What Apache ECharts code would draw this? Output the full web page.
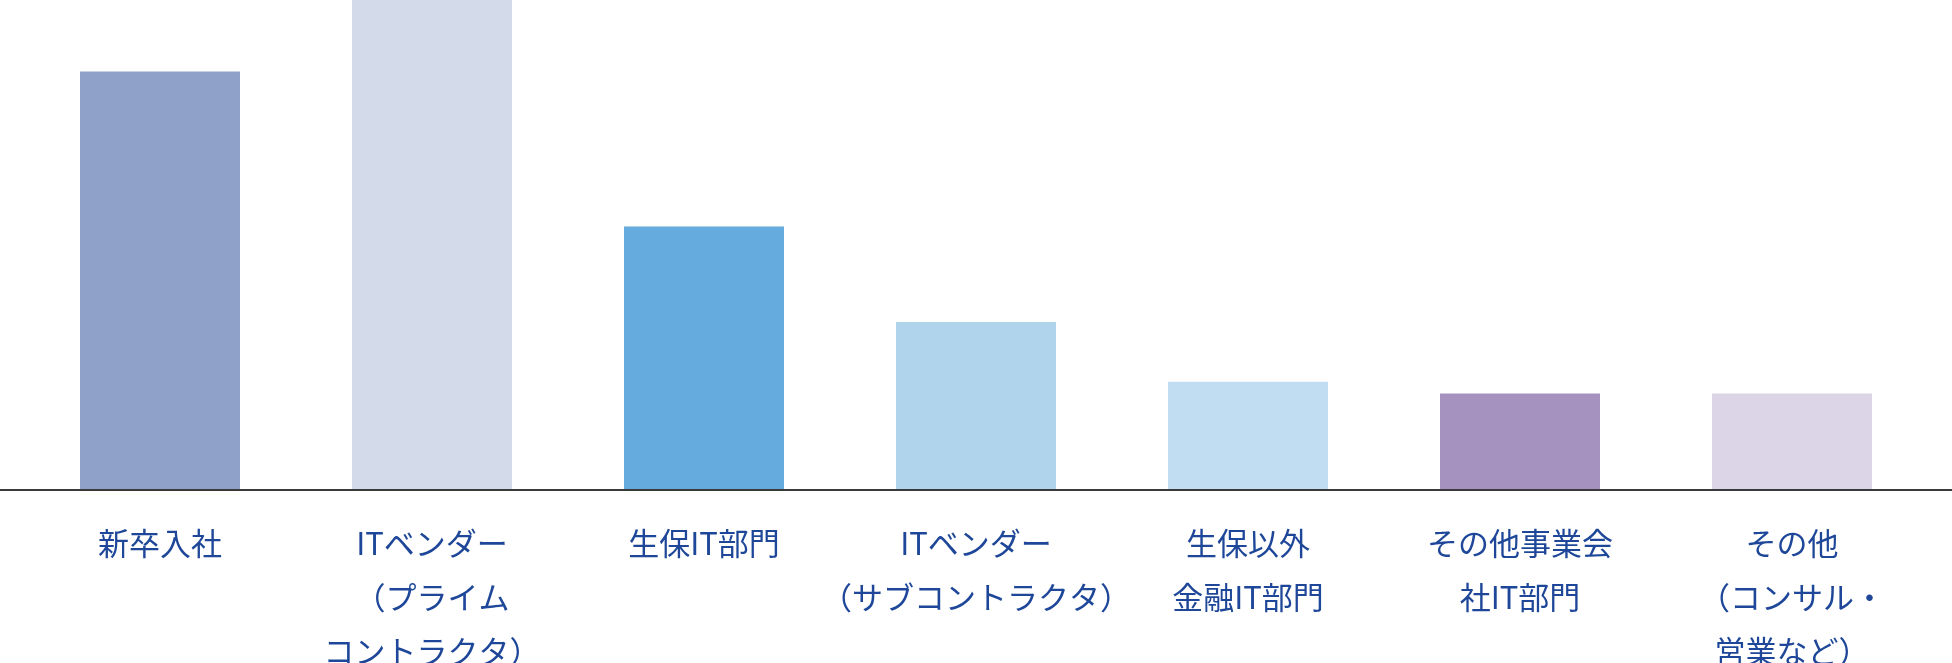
<!DOCTYPE html>
<html>
<head>
<meta charset="utf-8">
<script src="https://cdn.jsdelivr.net/npm/echarts@6/dist/echarts.min.js"></script>
<style>
html,body{margin:0;padding:0;background:#fff;}
#main{width:1952px;height:663px;}
</style>
</head>
<body>
<div id="main"></div>
<script>
const categories = [
  '新卒入社',
  'ITベンダー\n（プライム\nコントラクタ）',
  '生保IT部門',
  'ITベンダー\n（サブコントラクタ）',
  '生保以外\n金融IT部門',
  'その他事業会\n社IT部門',
  'その他\n（コンサル・\n営業など）'
];
const values = [35, 41, 22, 14, 9, 8, 8];
const barColors = ['#8fa1c8', '#d3daea', '#66abdd', '#b0d4ec', '#c0ddf1', '#a592bf', '#dbd5e7'];

const chart = echarts.init(document.getElementById('main'), null, {renderer: 'canvas'});
chart.setOption({
  animation: false,
  backgroundColor: '#ffffff',
  grid: [
    {left: 24, right: 24, top: 0, bottom: 174, containLabel: false, outerBoundsMode: 'none'},
    {left: 0, right: 0, top: 0, bottom: 173, containLabel: false, outerBoundsMode: 'none'}
  ],
  xAxis: [
    {
      type: 'category',
      gridIndex: 0,
      data: categories,
      axisLine: {show: false},
      axisTick: {show: false},
      axisLabel: {
        interval: 0,
        hideOverlap: false,
        margin: 27,
        color: '#1e4799',
        fontSize: 31,
        lineHeight: 54,
        fontFamily: '"Noto Sans CJK JP", "Noto Sans", sans-serif'
      }
    },
    {
      type: 'value',
      gridIndex: 1,
      min: 0,
      max: 1,
      axisLine: {show: true, onZero: false, lineStyle: {color: '#3a3a3a', width: 2}},
      axisTick: {show: false},
      axisLabel: {show: false},
      splitLine: {show: false}
    }
  ],
  yAxis: [
    {
      type: 'value',
      gridIndex: 0,
      min: 0,
      max: 41,
      show: false,
      splitLine: {show: false}
    },
    {
      type: 'value',
      gridIndex: 1,
      min: 0,
      max: 1,
      show: false
    }
  ],
  series: [
    {
      type: 'bar',
      xAxisIndex: 0,
      yAxisIndex: 0,
      barWidth: 160,
      data: values.map((v, i) => ({value: v, itemStyle: {color: barColors[i]}})),
      z: 1
    }
  ]
});
</script>
</body>
</html>
